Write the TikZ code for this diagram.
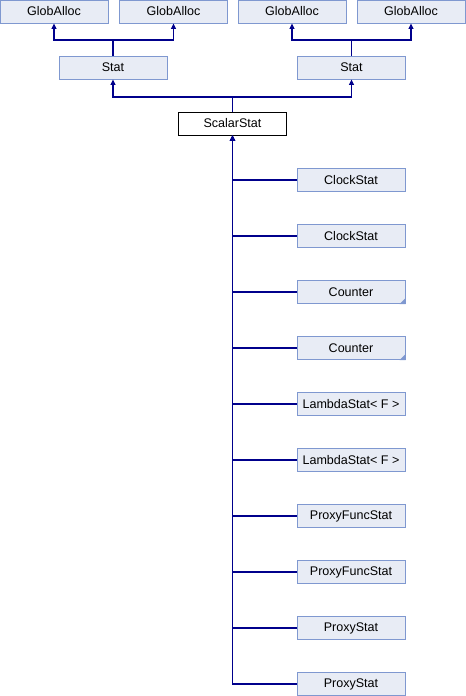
\documentclass[tikz,border=0pt]{standalone}
\usepackage{fontspec}
\setmainfont{Liberation Sans}
\usetikzlibrary{arrows.meta}
\definecolor{boxfill}{RGB}{232,236,245}
\definecolor{boxline}{RGB}{127,152,208}
\definecolor{edge}{RGB}{0,0,140}
\begin{document}
\begin{tikzpicture}[x=0.75pt,y=-0.75pt,
  cls/.style={draw=boxline,fill=boxfill,line width=0.75pt,minimum width=81pt,minimum height=17.25pt,inner sep=0pt,font=\fontsize{9.4}{11}\selectfont},
  cur/.style={cls,draw=black,fill=white},
  link/.style={draw=edge,line width=0.8pt},
  inh/.style={link,-{Triangle[width=3.6pt,length=4pt]}}]
\useasboundingbox (0,0) rectangle (466,696);
% base classes
\node[cls] (ga1) at (54,11.5) {GlobAlloc};
\node[cls] (ga2) at (173.5,11.5) {GlobAlloc};
\node[cls] (ga3) at (292,11.5) {GlobAlloc};
\node[cls] (ga4) at (411,11.5) {GlobAlloc};
\node[cls] (st1) at (113,67.5) {Stat};
\node[cls] (st2) at (351.5,67.5) {Stat};
\node[cur] (sc) at (232.5,123.5) {ScalarStat};
% derived classes
\foreach \n/\t [count=\i from 0] in {d1/ClockStat,d2/ClockStat,d3/Counter,d4/Counter,d5/{LambdaStat< F >},d6/{LambdaStat< F >},d7/ProxyFuncStat,d8/ProxyFuncStat,d9/ProxyStat,d10/ProxyStat}
  \node[cls] (\n) at (351,180+56*\i) {\t};
% markers for classes with further subclasses
\foreach \n in {d3,d4}
  \fill[boxline] (\n.south east) -- ++(-6,0) -- ++(6,-6) -- cycle;
% inheritance edges
\coordinate (j1) at (113,40);
\coordinate (j2) at (351.5,40);
\coordinate (j3) at (232.5,97);
\draw[link] (st1.north) -- (j1);
\draw[inh] (j1) -| (ga1.south);
\draw[inh] (j1) -| (ga2.south);
\draw[link] (st2.north) -- (j2);
\draw[inh] (j2) -| (ga3.south);
\draw[inh] (j2) -| (ga4.south);
\draw[link] (sc.north) -- (j3);
\draw[inh] (j3) -| (st1.south);
\draw[inh] (j3) -| (st2.south);
\foreach \n in {d1,d2,d3,d4,d5,d6,d7,d8,d9,d10}
  \draw[inh] (\n.west) -| (sc.south);
\end{tikzpicture}
\end{document}
